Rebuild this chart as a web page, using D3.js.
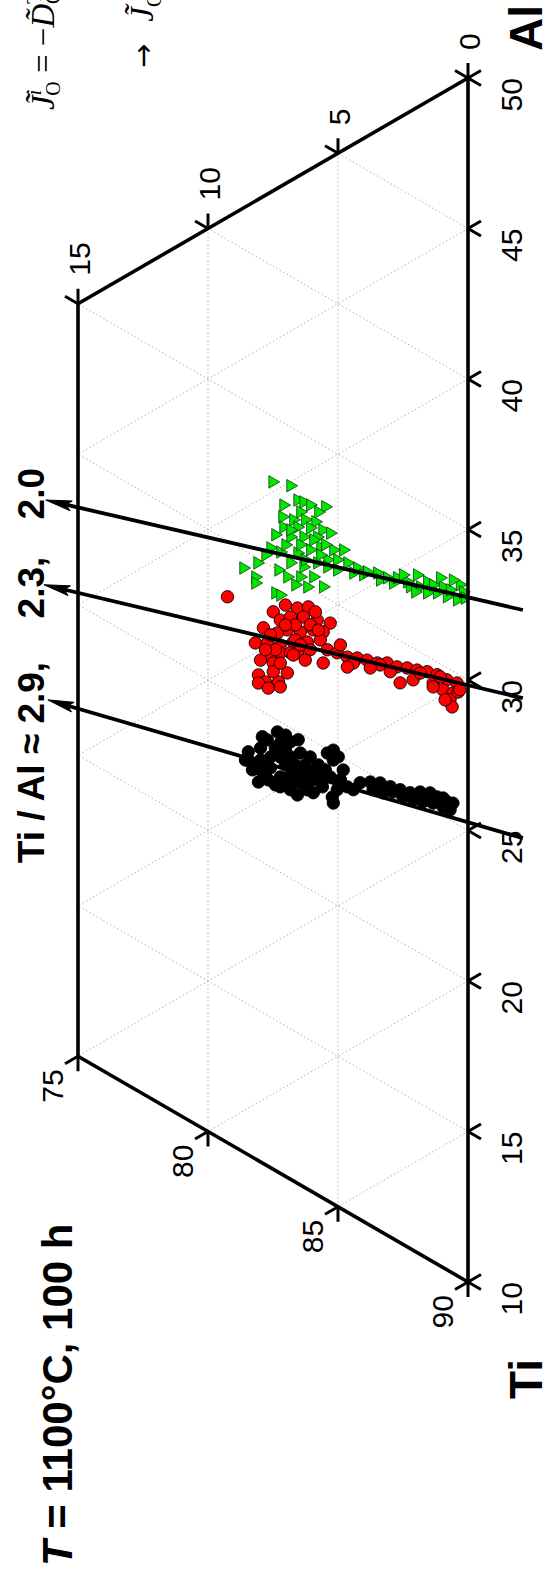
<!DOCTYPE html>
<html>
<head>
<meta charset="utf-8">
<script src="https://cdn.jsdelivr.net/npm/d3@7"></script>
<style>
  body { margin: 0; background: #fff; }
  text { font-family: "Liberation Sans", Arial, sans-serif; }
</style>
</head>
<body>
<script>
"use strict";

// Page size
let w = 547;
let h = 1571;

// Ternary window (at.%): Ti from 50 to 90 along the X = 0 edge, third component X from 0 to 15
let tiDomain = [50, 90];
let xDomain = [0, 15];

// Tick values
let alTicks = [50, 45, 40, 35, 30, 25, 20, 15, 10];
let tiTicks = [90, 85, 80, 75];
let xTicks = [0, 5, 10, 15];

// Dotted grid lines
let gridAl = [15, 20, 25, 30, 35, 40, 45];
let gridTi = [55, 60, 65, 70, 75, 80, 85];
let gridX = [5, 10];

// Measured compositions, [X, Ti] in at.%
let blackPts = [
  [7.33,68.06],[7.72,68.13],[7.98,68.27],[7.22,68.48],[6.83,68.64],[6.53,68.72],[8.56,68.38],[8.29,68.84],
  [7.98,68.67],[7.60,68.76],[7.22,68.95],[6.83,69.14],[6.45,69.20],[6.26,69.69],[8.06,69.36],[7.68,69.48],
  [7.22,69.61],[6.83,69.90],[6.53,69.82],[6.83,70.23],[6.56,70.54],[7.22,69.94],[6.18,70.56],[5.95,70.77],
  [5.95,70.34],[5.68,70.38],[5.30,70.57],[5.41,69.72],[5.18,69.74],[4.99,70.06],[5.18,70.07],[4.80,70.59],
  [4.91,70.86],[5.22,71.28],[5.18,71.50],[5.03,71.13],[4.64,71.23],[4.41,71.44],[4.15,71.34],[3.76,71.51],
  [3.38,71.73],[2.99,72.05],[2.61,72.34],[2.23,72.63],[1.84,72.80],[1.46,73.02],[1.19,73.29],[0.96,73.44],
  [0.58,73.80],[0.69,73.97],[0.96,73.74],[1.34,73.42],[1.73,73.18],[2.11,72.93],[2.50,72.64],[2.88,72.28],
  [7.60,69.12],[7.02,69.31],[6.14,69.92],[7.41,68.55],[7.91,67.93],[7.02,68.32],[6.45,70.19],[5.60,70.75],
  [5.76,69.94],[8.45,68.16],[3.65,71.82],[3.26,72.12],[1.57,73.20],[0.81,73.64],
  [8.37,68.53],[7.79,69.26],[7.41,69.78],[7.02,68.82],[6.64,69.50],[6.26,70.19],[5.87,70.12],[5.49,70.24],
  [7.98,69.00],[6.76,69.61],[6.07,69.52],[7.02,69.75]
];

let redPts = [
  [9.25,62.61],[7.49,63.99],[6.56,64.33],[6.14,64.50],[5.30,65.46],[7.87,64.33],[7.22,64.40],[6.83,64.49],
  [6.33,64.74],[5.80,65.11],[5.57,65.62],[5.95,65.36],[6.45,65.18],[6.95,64.86],[7.33,64.77],[8.18,64.68],
  [7.72,64.91],[7.22,65.23],[6.72,65.38],[6.18,65.65],[5.68,65.83],[7.22,65.49],[6.83,65.68],[7.60,65.44],
  [6.56,65.82],[7.49,65.69],[7.98,65.35],[5.41,66.29],[5.03,66.58],[4.64,66.92],[4.26,67.14],[3.88,67.40],
  [3.49,67.69],[3.11,67.88],[2.73,68.20],[2.34,68.43],[1.96,68.69],[1.57,68.94],[1.19,69.23],[0.81,69.59],
  [0.42,69.89],[1.34,69.43],[0.96,69.85],[0.58,70.14],[2.61,68.79],[4.41,67.23],[5.57,66.65],[2.11,68.94],
  [8.06,65.80],[7.79,66.17],[8.06,66.07],[7.68,66.43],[7.29,66.42],[7.22,66.62],[6.95,66.29],[7.49,65.98],
  [7.22,65.83],[6.72,65.81],[1.34,69.56],[0.69,70.31],[0.61,70.59],[0.38,70.21],[1.07,69.36],[1.84,68.85],
  [3.38,67.81],[4.64,67.25],[6.07,65.96],[7.02,64.00],[5.87,64.80],[6.64,64.85],[7.60,64.70],[6.26,66.21],
  [4.91,66.38],[0.31,70.17],[0.88,70.22],[2.99,68.23],[3.76,67.72],
  [7.02,64.66],[6.07,65.13],[6.64,65.35],[7.41,65.29],[6.45,65.61],[7.79,65.10],[5.76,65.46]
];

let greenPts = [
  [7.52,59.66],[6.83,60.13],[6.56,60.74],[6.33,60.92],[6.07,61.15],[5.49,61.50],[5.76,61.54],[6.45,61.19],
  [7.14,61.01],[6.72,61.32],[6.26,61.55],[5.87,61.81],[7.10,61.37],[6.56,61.64],[6.07,61.91],[5.60,62.22],
  [5.30,62.47],[7.41,61.47],[6.83,61.83],[6.33,62.08],[5.80,62.35],[7.60,61.81],[7.22,62.14],[6.56,62.50],
  [6.07,62.64],[5.68,62.74],[4.80,63.28],[5.18,63.09],[8.10,62.06],[8.64,61.96],[8.18,62.49],[8.18,62.69],
  [7.41,63.40],[7.22,63.57],[6.95,63.10],[6.83,62.69],[6.33,63.08],[5.80,63.21],[5.41,63.30],[5.03,63.49],
  [6.45,63.35],[5.95,63.60],[5.57,64.12],[6.18,63.82],[5.41,63.54],[5.03,63.83],[4.64,63.79],[4.41,64.24],
  [4.26,64.15],[4.03,64.49],[3.88,64.47],[3.49,64.70],[3.38,64.99],[3.11,65.05],[2.88,65.34],[2.73,65.24],
  [2.34,65.57],[2.23,65.79],[1.96,65.53],[1.84,65.99],[1.57,65.95],[1.57,66.32],[1.34,66.17],[1.19,66.51],
  [0.96,66.43],[0.81,66.83],[0.69,66.66],[0.42,67.13],[0.31,66.68],[0.19,66.98],[7.02,62.00],[7.79,61.95],
  [5.95,62.37],[5.49,62.76],[7.29,62.70],[6.64,63.52],[7.10,60.64],[0.58,66.39],[1.07,66.07],[2.50,65.26],
  [2.03,66.06],[0.12,67.22],[6.45,62.28],[6.83,61.60],[5.68,63.01],[6.26,62.88]
];

// Ti/Al ratio guide arrows, tail and head as [X, Ti]
let ratioLabels = ["2.9,", "2.3,", "2.0"];
let arrowTails = [[-2.11, 76.31], [-2.11, 71.66], [-2.11, 68.73]];
let arrowHeads = [[16.16, 62.58], [16.31, 58.68], [16.24, 55.90]];

let svg = d3.select("body").append("svg")
    .attr("width", w)
    .attr("height", h)
    .style("display", "block");

// The plot is drawn turned a quarter turn: X grows to the left, Ti grows downwards
let sTi = d3.scaleLinear().domain(tiDomain).range([78, 1282]);
let sX = d3.scaleLinear().domain(xDomain).range([468, 78]);
let proj = (x, ti) => [sX(x), sTi(ti + x / 2)];

let line = d3.line();

// arm of a tick: from p towards q, fixed length
let arm = (p, q, len) => {
    let dx = q[0] - p[0], dy = q[1] - p[1];
    let d = Math.hypot(dx, dy);
    return [p[0] + dx / d * len, p[1] + dy / d * len];
};

// grid
let grid = svg.append("g")
    .attr("fill", "none")
    .attr("stroke", "#a8a8a8")
    .attr("stroke-width", 1)
    .attr("stroke-dasharray", "1.3,2.7");

gridX.forEach(c => {
    grid.append("path").attr("d", line([proj(c, 50), proj(c, 90 - c)]));
});
gridAl.forEach(a => {
    let xe = Math.min(15, 50 - a);
    grid.append("path").attr("d", line([proj(0, 100 - a), proj(xe, 100 - a - xe)]));
});
gridTi.forEach(t => {
    let xe = Math.min(15, 90 - t);
    grid.append("path").attr("d", line([proj(0, t), proj(xe, t)]));
});

// data
let drawCircles = (pts, fill) => {
    svg.append("g").selectAll("circle")
        .data(pts)
        .enter().append("circle")
        .attr("cx", d => proj(d[0], d[1])[0])
        .attr("cy", d => proj(d[0], d[1])[1])
        .attr("r", 6.2)
        .attr("fill", fill)
        .attr("stroke", "#000")
        .attr("stroke-width", 0.9);
};
drawCircles(blackPts, "#000");
drawCircles(redPts, "#ff0000");

let tri = d3.symbol().type(d3.symbolTriangle).size(68);
svg.append("g").selectAll("path")
    .data(greenPts)
    .enter().append("path")
    .attr("d", tri)
    .attr("transform", d => {
        let p = proj(d[0], d[1]);
        return `translate(${p[0]},${p[1]}) rotate(90)`;
    })
    .attr("fill", "#00e600")
    .attr("stroke", "#0b3d0b")
    .attr("stroke-width", 0.8);

// frame
let frame = [[0, 50], [15, 50], [15, 75], [0, 90]].map(d => proj(d[0], d[1]));
svg.append("path")
    .attr("d", line(frame) + "Z")
    .attr("fill", "none")
    .attr("stroke", "#000")
    .attr("stroke-width", 3.6)
    .attr("stroke-linejoin", "miter");

// ratio arrows
let arrows = svg.append("g");
arrowTails.forEach((t, i) => {
    let a = proj(t[0], t[1]);
    let b = proj(arrowHeads[i][0], arrowHeads[i][1]);
    let dx = b[0] - a[0], dy = b[1] - a[1];
    let d = Math.hypot(dx, dy);
    let ux = dx / d, uy = dy / d;
    let hl = 26, hw = 5;
    let base = [b[0] - ux * hl, b[1] - uy * hl];
    arrows.append("path")
        .attr("d", line([a, [b[0] - ux * 12, b[1] - uy * 12]]))
        .attr("stroke", "#000")
        .attr("stroke-width", 3.8)
        .attr("fill", "none");
    arrows.append("path")
        .attr("d", line([b, [base[0] - uy * hw, base[1] + ux * hw],
                         [b[0] - ux * hl * 0.8, b[1] - uy * hl * 0.8],
                         [base[0] + uy * hw, base[1] - ux * hw]]) + "Z")
        .attr("fill", "#000")
        .attr("stroke", "#000")
        .attr("stroke-width", 1);
});

// ticks
let ticks = svg.append("g")
    .attr("stroke", "#000")
    .attr("stroke-width", 3)
    .attr("fill", "none");
let tl = 15;

alTicks.forEach(a => {
    let p = proj(0, 100 - a);
    ticks.append("path").attr("d", line([p, arm(p, proj(-1, 101 - a), tl)]));
    ticks.append("path").attr("d", line([p, arm(p, proj(-1, 100 - a), tl)]));
});
xTicks.forEach(c => {
    let p = proj(c, 50);
    ticks.append("path").attr("d", line([p, arm(p, proj(c, 49), tl)]));
    ticks.append("path").attr("d", line([p, arm(p, proj(c + 1, 49), tl)]));
});
tiTicks.forEach(t => {
    let p = proj(90 - t, t);
    ticks.append("path").attr("d", line([p, arm(p, proj(90 - t, t + 1), tl)]));
    ticks.append("path").attr("d", line([p, arm(p, proj(91 - t, t), tl)]));
});

// tick labels, all turned to read upwards
let rotText = (x, y, str, anchor, size, weight) => svg.append("text")
    .attr("transform", `translate(${x},${y}) rotate(-90)`)
    .attr("text-anchor", anchor)
    .style("font-size", size + "px")
    .style("font-weight", weight || "normal")
    .text(str);

alTicks.forEach(a => {
    let p = proj(0, 100 - a);
    rotText(p[0] + 54, p[1], a, "end", 30);
});
xTicks.forEach(c => {
    let p = proj(c, 50);
    rotText(p[0] + 12, p[1] - 28, c, "start", 30);
});
tiTicks.forEach(t => {
    let p = proj(90 - t, t);
    rotText(p[0] - 15, p[1] + 13, t, "end", 30);
});

// axis titles
rotText(542, 51, "Al", "start", 46, "bold");
rotText(542, 1399, "Ti", "start", 46, "bold");

// title
let title = rotText(72, 1566, "", "start", 42, "bold");
title.append("tspan").style("font-style", "italic").text("T");
title.append("tspan").text(" = 1100\u00b0C, 100 h");

// ratio label, each value sits next to its arrow head
let headPts = arrowHeads.map(d => proj(d[0], d[1]));
rotText(44, headPts[0][1] - 38, "Ti / Al \u2248 " + ratioLabels[0], "end", 37, "bold");
rotText(44, headPts[1][1] - 28, ratioLabels[1], "end", 37, "bold");
rotText(44, headPts[2][1] - 32, ratioLabels[2], "end", 37, "bold");

// clipped equation in the corner
let eq = svg.append("text")
    .attr("transform", "translate(54,110) rotate(-90)")
    .style("font-family", '"Liberation Serif", "DejaVu Serif", serif')
    .style("font-size", "33px");
eq.append("tspan").style("font-style", "italic").text("J\u0303");
eq.append("tspan").attr("dy", -13).style("font-size", "20px").style("font-style", "italic").text("i");
eq.append("tspan").attr("dx", -6).attr("dy", 19).style("font-size", "20px").text("O");
eq.append("tspan").attr("dy", -6).text(" = \u2212");
eq.append("tspan").style("font-style", "italic").text("D\u0303");
eq.append("tspan").attr("dy", -13).style("font-size", "20px").text("T");
eq.append("tspan").attr("dx", -12).attr("dy", 19).style("font-size", "20px").text("OO");

let eq2 = svg.append("text")
    .attr("transform", "translate(153,68) rotate(-90)")
    .style("font-family", '"Liberation Serif", "DejaVu Serif", serif')
    .style("font-size", "33px");
eq2.append("tspan")
    .style("font-family", '"DejaVu Sans", sans-serif')
    .style("font-size", "29px")
    .text("\u2192");
eq2.append("tspan").attr("dx", 22).style("font-style", "italic").text("J\u0303");
eq2.append("tspan").attr("dy", 8).style("font-size", "20px").text("O");
</script>
</body>
</html>
